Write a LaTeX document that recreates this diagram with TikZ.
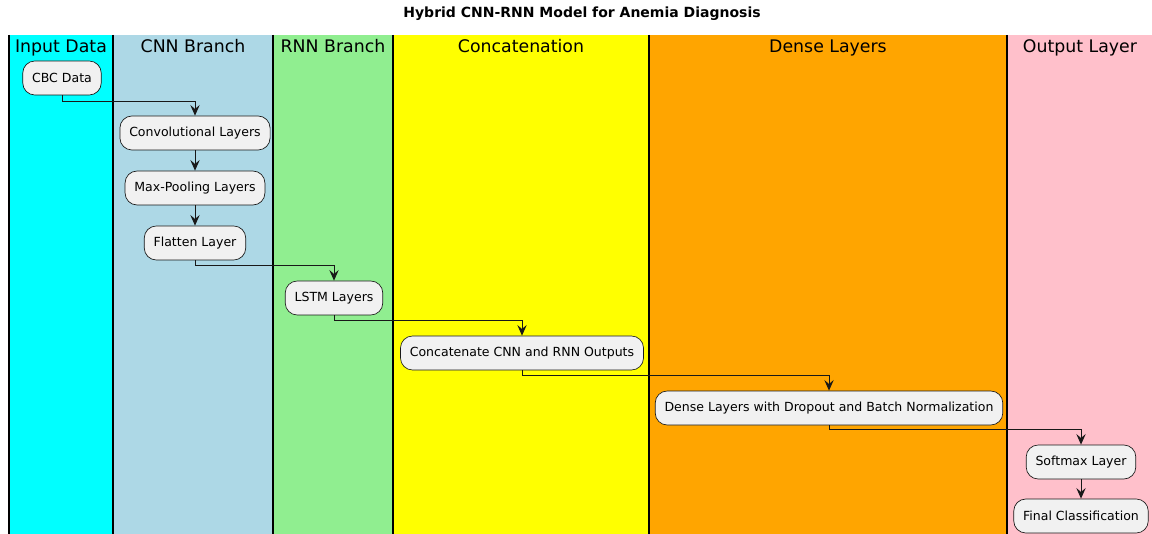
\documentclass[tikz,border=0pt]{standalone}
\usepackage{fontspec}
\setmainfont{DejaVu Sans}
\usetikzlibrary{arrows.meta}

\definecolor{nodefill}{HTML}{F1F1F1}
\definecolor{nodeline}{HTML}{181818}
\definecolor{lanecyan}{HTML}{00FFFF}
\definecolor{laneblue}{HTML}{ADD8E6}
\definecolor{lanegreen}{HTML}{90EE90}
\definecolor{laneyellow}{HTML}{FFFF00}
\definecolor{laneorange}{HTML}{FFA500}
\definecolor{lanepink}{HTML}{FFC0CB}

\tikzset{
  layer/.style={draw=nodeline, fill=nodefill, line width=0.5pt, rounded corners=9pt,
    minimum height=25.5pt, inner xsep=7pt, font=\fontsize{9.4}{11}\selectfont},
  flow/.style={draw=nodeline, line width=0.75pt, -{Stealth[length=8pt,width=7pt,inset=3pt]}},
  lanetitle/.style={font=\fontsize{13}{15}\selectfont, anchor=base},
  laneline/.style={line width=0.9pt, black}
}

\begin{document}
\begin{tikzpicture}[x=0.75pt, y=-0.75pt]
  \useasboundingbox (0,0) rectangle (1152,534);

  % Title
  \node[font=\bfseries\fontsize{10.5}{12}\selectfont] (title) at (582,14) {Hybrid CNN-RNN Model for Anemia Diagnosis};

  % Swimlanes
  \fill[lanecyan]   (9,35)    rectangle (113,534);
  \fill[laneblue]   (113,35)  rectangle (273,534);
  \fill[lanegreen]  (273,35)  rectangle (393,534);
  \fill[laneyellow] (393,35)  rectangle (649,534);
  \fill[laneorange] (649,35)  rectangle (1007,534);
  \fill[lanepink]   (1007,35) rectangle (1152,534);
  \foreach \xx in {9,113,273,393,649,1007}
    \draw[laneline] (\xx,35) -- (\xx,534);

  % Lane titles
  \node[lanetitle] (laneinput)  at (61,53)   {Input Data};
  \node[lanetitle] (lanecnn)    at (193,53)  {CNN Branch};
  \node[lanetitle] (lanernn)    at (333,53)  {RNN Branch};
  \node[lanetitle] (lanecat)    at (521,53)  {Concatenation};
  \node[lanetitle] (lanedense)  at (828,53)  {Dense Layers};
  \node[lanetitle] (laneout)    at (1080,53) {Output Layer};

  % Activities
  \node[layer] (cbc)     at (62,78)   {CBC Data};
  \node[layer] (conv)    at (195,133) {Convolutional Layers};
  \node[layer] (pool)    at (195,188) {Max-Pooling Layers};
  \node[layer] (flatten) at (195,243) {Flatten Layer};
  \node[layer] (lstm)    at (334,298) {LSTM Layers};
  \node[layer] (concat)  at (522,353) {Concatenate CNN and RNN Outputs};
  \node[layer] (dense)   at (829,408) {Dense Layers with Dropout and Batch Normalization};
  \node[layer] (softmax) at (1081,462) {Softmax Layer};
  \node[layer] (final)   at (1081,516) {Final Classification};

  % Flow
  \draw[flow] (cbc.south) -- ++(0,6) -| (conv.north);
  \draw[flow] (conv) -- (pool);
  \draw[flow] (pool) -- (flatten);
  \draw[flow] (flatten.south) -- ++(0,5) -| (lstm.north);
  \draw[flow] (lstm.south) -- ++(0,5) -| (concat.north);
  \draw[flow] (concat.south) -- ++(0,5) -| (dense.north);
  \draw[flow] (dense.south) -- ++(0,4) -| (softmax.north);
  \draw[flow] (softmax) -- (final);
\end{tikzpicture}
\end{document}
